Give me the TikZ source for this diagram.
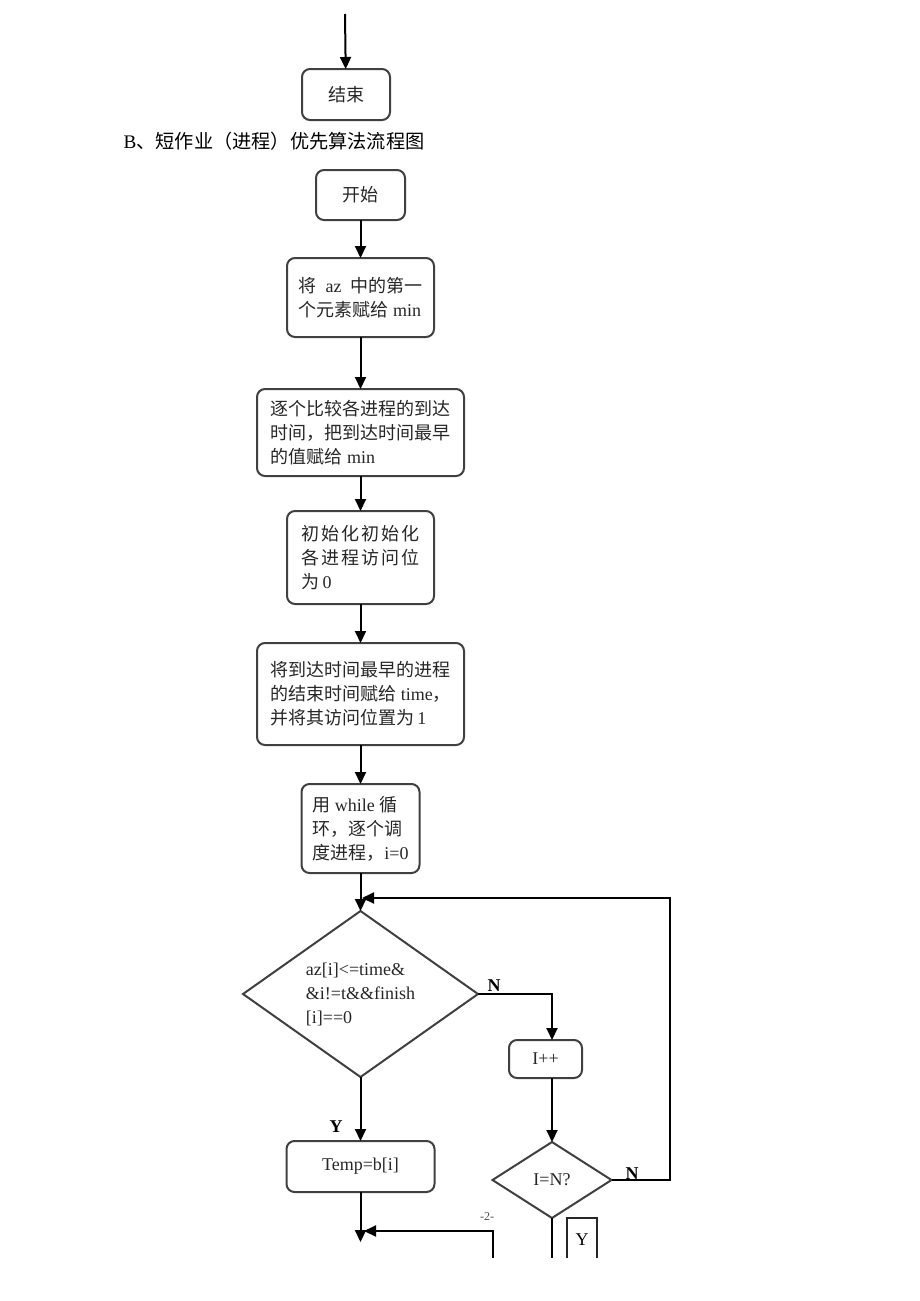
\documentclass[tikz,border=0pt]{standalone}
\usepackage{fontspec}
\setmainfont{Liberation Serif}
\newfontfamily\cjk{Noto Sans CJK SC}
\newfontfamily\cjkwide[LetterSpace=11]{Noto Sans CJK SC}
\newcommand\zh[1]{{\cjk #1}}
\usetikzlibrary{positioning,shapes.geometric,arrows.meta}

\begin{document}
\begin{tikzpicture}[x=0.5pt,y=-0.5pt,->,>={Triangle[length=6pt,width=5.5pt]},line width=1pt,
  every node/.style={font=\fontsize{9}{12}\selectfont},
  box/.style={draw=black!75,rounded corners=4pt,align=left,text=black!85,inner sep=3pt,outer sep=0pt},
  choice/.style={diamond,draw=black!75,align=left,text=black!85,inner sep=0pt,outer sep=0pt,aspect=1.4},
  lab/.style={font=\fontsize{9}{10}\selectfont\bfseries}]

  \useasboundingbox (0,0) rectangle (920,1301);
  \clip (0,0) rectangle (920,1257);

  % end of the first chart
  \coordinate (endin) at (345,14);
  \node[box,minimum width=44pt,minimum height=25.5pt] (end) at (346,94.5) {\zh{结束}};
  \node[anchor=west,font=\fontsize{9.6}{11}\selectfont] (title) at (116,141) {B\zh{、短作业（进程）优先算法流程图}};

  % main column
  \node[box,minimum width=44.5pt,minimum height=25pt] (start) at (360.5,195) {\zh{开始}};
  \node[box,minimum width=73.5pt,minimum height=39.5pt,below=19pt of start] (init) {\zh{将}\ \ az\ \ \zh{中的第一}\\\zh{个元素赋给} min};
  \node[box,minimum width=103.5pt,minimum height=43.5pt,below=26pt of init] (scan) {\zh{逐个比较各进程的到达}\\\zh{时间，把到达时间最早}\\\zh{的值赋给} min};
  \node[box,minimum width=73.5pt,minimum height=46.5pt,below=17.5pt of scan] (reset) {{\cjkwide 初始化初始化}\\{\cjkwide 各进程访问位}\\\zh{为}\,0};
  \node[box,minimum width=103.5pt,minimum height=51pt,below=19.5pt of reset] (first) {\zh{将到达时间最早的进程}\\\zh{的结束时间赋给} time\zh{，}\\\zh{并将其访问位置为}\,1};
  \node[box,minimum width=59pt,minimum height=44.5pt,below=19.5pt of first] (loop) {\zh{用}\ while\ \zh{循}\\\zh{环，逐个调}\\\zh{度进程，}i=0};
  \node[choice,minimum width=117.5pt,minimum height=83pt,below=19pt of loop] (d1) {az[i]<=time\&\\\&i!=t\&\&finish\\{[i]}==0};
  \node[box,minimum width=74pt,minimum height=25.5pt,below=32pt of d1] (temp) {Temp=b[i]};

  % right column
  \node[box,minimum width=36.5pt,minimum height=19pt] (ipp) at (545.5,1059) {I++};
  \node[choice,minimum width=59.5pt,minimum height=38pt] (d2) at (552,1180) {I=N?};
  \node[draw=black!85,line width=0.8pt,minimum width=15pt,minimum height=22pt] (ybox) at (582,1240) {Y};

  % labels
  \node[lab] (n1) at (494,986) {N};
  \node[lab] (n2) at (632,1174) {N};
  \node[lab] (y1) at (336,1127) {Y};
  \node[font=\fontsize{6}{7}\selectfont,text=black!70] (page) at (487,1217) {-2-};

  \coordinate (join) at (362,898);
  \coordinate (cut1) at (360.5,1242);
  \coordinate (back) at (493,1270);
  \coordinate (backin) at (364,1231);
  \coordinate (cut2) at (552,1270);

  \draw (endin) -- (end);
  \draw (start) -- (init);
  \draw (init) -- (scan);
  \draw (scan) -- (reset);
  \draw (reset) -- (first);
  \draw (first) -- (loop);
  \draw (loop) -- (d1);
  \draw (d1.east) -| ([xshift=3.25pt]ipp.north);
  \draw ([xshift=3.25pt]ipp.south) -- (d2);
  \draw (d2.east) -- ++(58,0) |- (join);
  \draw (d1) -- (temp);
  \draw (temp) -- (cut1);
  \draw (back) |- (backin);
  \draw[-] (d2) -- (cut2);

\end{tikzpicture}
\end{document}
